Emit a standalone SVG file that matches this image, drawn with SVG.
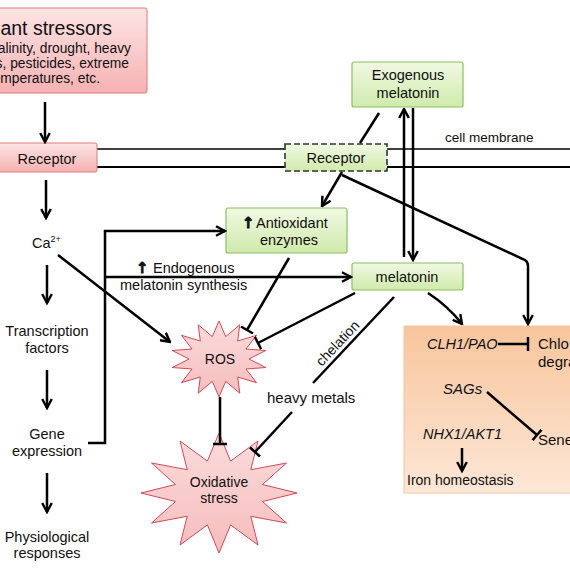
<svg xmlns="http://www.w3.org/2000/svg" width="570" height="570" viewBox="0 0 570 570">
<defs>
<linearGradient id="pink" x1="0" y1="0" x2="0" y2="1"><stop offset="0" stop-color="#fde4e4"/><stop offset="1" stop-color="#f6b2b2"/></linearGradient>
<linearGradient id="green" x1="0" y1="0" x2="0" y2="1"><stop offset="0" stop-color="#f0f9e3"/><stop offset="1" stop-color="#d0eaab"/></linearGradient>
<linearGradient id="orange" x1="0" y1="0" x2="0" y2="1"><stop offset="0" stop-color="#f8c59c"/><stop offset="1" stop-color="#fde7d6"/></linearGradient>
<linearGradient id="star" x1="0" y1="0" x2="0" y2="1"><stop offset="0" stop-color="#fbdcdc"/><stop offset="1" stop-color="#f6bcbc"/></linearGradient>
<marker id="arr" viewBox="0 0 12 12" refX="10.5" refY="6" markerWidth="12" markerHeight="12" markerUnits="userSpaceOnUse" orient="auto"><path d="M1.5,1.2 L10.5,6 L1.5,10.8" fill="none" stroke="#000" stroke-width="2.4"/></marker>
<marker id="bar" viewBox="0 0 4 14" refX="2" refY="7" markerWidth="4" markerHeight="14" markerUnits="userSpaceOnUse" orient="auto"><path d="M2,0 V14" stroke="#000" stroke-width="2.5"/></marker>
</defs>
<style>
svg{font-size:14.5px}
text{font-family:"Liberation Sans",Arial,sans-serif;fill:#111}
.c{text-anchor:middle}
.e{text-anchor:end}
.i{font-style:italic}
.up{font-family:"DejaVu Sans",sans-serif;font-weight:bold;stroke:#111;stroke-width:0.8}
.pk{fill:url(#pink);stroke:#e07a7a;stroke-width:1}
.gr{fill:url(#green);stroke:#8cc063;stroke-width:1.2}
.st{fill:url(#star);stroke:#d24a55;stroke-width:1}
.ln{fill:none;stroke:#000;stroke-width:2.5}
.a{marker-end:url(#arr)}
.b{marker-end:url(#bar)}
</style>
<rect width="570" height="570" fill="#fff"/>

<g id="membrane">
<line x1="97" y1="149" x2="570" y2="149" stroke="#000" stroke-width="1.6"/>
<line x1="97" y1="167" x2="570" y2="167" stroke="#000" stroke-width="2.2"/>
<text x="445" y="142" font-size="13.5">cell membrane</text>
</g>

<g id="stressors">
<rect class="pk" x="-10" y="8" width="157" height="85" rx="2"/>
<text class="e" x="112" y="35" font-size="19.5">ant stressors</text>
<text class="e" x="131" y="53" font-size="13.8">alinity, drought, heavy</text>
<text class="e" x="129" y="68" font-size="13.8">s, pesticides, extreme</text>
<text class="e" x="100" y="83" font-size="13.8">emperatures, etc.</text>
</g>

<g id="receptor-left">
<rect class="pk" x="-10" y="143" width="107" height="29" rx="2"/>
<text class="c" x="47" y="163.5">Receptor</text>
</g>

<g id="ca"><text x="32" y="248">Ca<tspan font-size="9" dy="-6">2+</tspan></text></g>
<g id="tf"><text class="c" x="47" y="336">Transcription</text><text class="c" x="47" y="353">factors</text></g>
<g id="gene"><text class="c" x="47" y="439">Gene</text><text class="c" x="47" y="456">expression</text></g>
<g id="phys"><text class="c" x="47" y="542">Physiological</text><text class="c" x="47" y="558">responses</text></g>

<g id="exogenous">
<rect class="gr" x="352" y="62" width="111" height="45" rx="2"/>
<text class="c" x="408" y="80">Exogenous</text>
<text class="c" x="408" y="98">melatonin</text>
</g>

<g id="receptor-mem">
<rect x="285" y="144" width="102" height="27" fill="url(#green)" stroke="#333" stroke-width="1.6" stroke-dasharray="6,3"/>
<text class="c" x="336" y="163">Receptor</text>
</g>

<g id="antioxidant">
<rect class="gr" x="226" y="208" width="121" height="45" rx="2"/>
<text x="256" y="228"><tspan x="242" class="up" font-size="15">↑</tspan><tspan x="256">Antioxidant</tspan></text>
<text class="c" x="289" y="245">enzymes</text>
</g>

<g id="melatonin">
<rect class="gr" x="352" y="263" width="111" height="27" rx="2"/>
<text class="c" x="407" y="282">melatonin</text>
</g>

<g id="endogenous-label">
<text x="153" y="273"><tspan x="136" class="up" font-size="15">↑</tspan><tspan x="153">Endogenous</tspan></text>
<text x="120" y="290">melatonin synthesis</text>
</g>

<g id="ros">
<polygon class="st" points="219,321 225.7,336.6 239.8,324.8 237.7,341 256.5,335.3 246,349 265.8,350.5 249,359 265.8,367.5 246,369 256.5,382.7 237.7,377 239.8,393.2 225.7,381.4 219,397 212.3,381.4 198.2,393.2 200.3,377 181.5,382.7 192,369 172.2,367.5 189,359 172.2,350.5 192,349 181.5,335.3 200.3,341 198.2,324.8 212.3,336.6"/>
<text class="c" x="220" y="364" font-size="14">ROS</text>
</g>

<g id="oxidative">
<polygon class="st" points="219,433 230.6,461.1 258,441 250.8,469.7 286.5,463 262.5,484.5 297,493 262.5,501.5 286.5,523 250.8,516.3 258,545 230.6,524.9 219,553 207.4,524.9 180,545 187.2,516.3 151.5,523 175.5,501.5 141,493 175.5,484.5 151.5,463 187.2,469.7 180,441 207.4,461.1"/>
<text class="c" x="219" y="487" font-size="14">Oxidative</text>
<text class="c" x="219" y="503" font-size="14">stress</text>
</g>

<g id="heavy-metals"><text x="267" y="403" font-size="15">heavy metals</text></g>

<g id="senescence-box">
<rect x="404" y="326" width="170" height="167" fill="url(#orange)" stroke="#f2c6a2" stroke-width="1"/>
<text class="i" x="427" y="349">CLH1/PAO</text>
<text x="538" y="349" font-size="15">Chlo</text>
<text x="538" y="367" font-size="15">degra</text>
<text class="i" x="443" y="394" font-size="15">SAGs</text>
<text x="538" y="445" font-size="15">Sene</text>
<text class="i" x="423" y="439">NHX1/AKT1</text>
<text x="407" y="485" font-size="14">Iron homeostasis</text>
</g>

<g id="connectors">
<line class="ln a" x1="45" y1="102" x2="45" y2="142"/>
<line class="ln a" x1="46" y1="180" x2="46" y2="218"/>
<line class="ln a" x1="47" y1="265" x2="47" y2="303"/>
<line class="ln a" x1="47" y1="370" x2="47" y2="408"/>
<line class="ln a" x1="47" y1="473" x2="47" y2="512"/>
<path class="ln a" d="M88,443 H105 V231 H225"/>
<line class="ln a" x1="105" y1="277" x2="351" y2="277"/>
<line class="ln a" x1="58" y1="255" x2="170" y2="342"/>
<line class="ln a" x1="404" y1="257" x2="404" y2="109"/>
<line class="ln a" x1="413" y1="108" x2="413" y2="260"/>
<line class="ln" x1="379" y1="113" x2="360" y2="143"/>
<line class="ln a" x1="342" y1="172" x2="322" y2="206"/>
<path class="ln a" d="M342,175 L525,260 Q528,262 528,266 V324"/>
<path class="ln a" d="M428,293 Q448,306 462,324"/>
<line class="ln b" x1="289" y1="258" x2="247" y2="330"/>
<line class="ln b" x1="355" y1="293" x2="258" y2="343"/>
<line class="ln b" x1="220" y1="397" x2="220" y2="444"/>
<line class="ln" x1="394" y1="297" x2="313" y2="383"/>
<line class="ln b" x1="292" y1="412" x2="255" y2="452"/>
<text class="c" x="0" y="0" font-size="14" transform="translate(341,346.5) rotate(-46.7)">chelation</text>
<line class="ln b" x1="498" y1="344" x2="528" y2="344"/>
<line class="ln b" x1="487" y1="392" x2="537" y2="435"/>
<line class="ln a" x1="462" y1="448" x2="462" y2="471"/>
</g>
</svg>
